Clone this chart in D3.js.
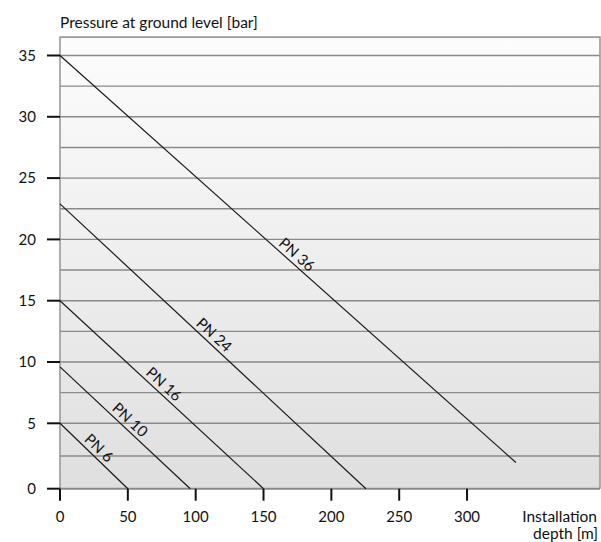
<!DOCTYPE html>
<html><head><meta charset="utf-8">
<script src="https://cdn.jsdelivr.net/npm/d3@7"></script>
<style>body{margin:0;background:#fff}svg{display:block}text{font-family:Lato,"Open Sans",sans-serif;fill:#111}</style>
</head><body><svg id="c" width="601" height="542"></svg>
<script>
const seriesNames = ["PN 6","PN 10","PN 16","PN 24","PN 36"];
const startDepth = [0,0,0,0,0];
const startPressure = [5,9.6,15,22.9,35];
const endDepth = [50,96,150,225.5,336];
const endPressure = [0,0,0,0,2.0];
const labelDepth = [24,47,72,109,170];
const yTicks = [0,5,10,15,20,25,30,35];
const xTicks = [0,50,100,150,200,250,300];
const gridValues = [2.5,5,7.5,10,12.5,15,17.5,20,22.5,25,27.5,30,32.5,35];

const svg = d3.select("#c");
const x = d3.scaleLinear().domain([0,398]).range([60,600]);
const y = d3.scaleLinear().domain([0,5,36.5]).range([488.7,423.3,37.1]);

const defs = svg.append("defs");
const g = defs.append("linearGradient").attr("id","bg").attr("x1",0).attr("y1",0).attr("x2",0).attr("y2",1);
g.append("stop").attr("offset","0%").attr("stop-color","#fdfdfd");
g.append("stop").attr("offset","100%").attr("stop-color","#dfdfdf");

svg.append("rect").attr("x",x(0)).attr("y",y(36.5)).attr("width",x(398)-x(0)).attr("height",y(0)-y(36.5)).attr("fill","url(#bg)");

svg.append("g").selectAll("line").data(gridValues).join("line")
  .attr("x1",x(0)).attr("x2",x(398)).attr("y1",d=>y(d)).attr("y2",d=>y(d))
  .attr("stroke","#8a8a8a").attr("stroke-width",1.4);

// border
svg.append("path").attr("d",`M${x(0)},${y(0)}V${y(36.5)}H${x(398)}V${y(0)}`)
  .attr("fill","none").attr("stroke","#9a9a9a").attr("stroke-width",1.6);
svg.append("line").attr("x1",x(0)).attr("x2",x(398)).attr("y1",y(0)).attr("y2",y(0))
  .attr("stroke","#8a8a8a").attr("stroke-width",2);

// y axis
const yAxis = svg.append("g");
yAxis.selectAll("line").data(yTicks).join("line")
  .attr("x1",x(0)-13).attr("x2",x(0)).attr("y1",d=>y(d)).attr("y2",d=>y(d))
  .attr("stroke","#111").attr("stroke-width",2);
yAxis.selectAll("text").data(yTicks).join("text")
  .attr("x",36).attr("y",d=>y(d)).attr("dy","0.35em").attr("text-anchor","end")
  .attr("font-size",15).text(d=>d);

// x axis
const xAxis = svg.append("g");
xAxis.selectAll("line").data(xTicks).join("line")
  .attr("x1",d=>x(d)).attr("x2",d=>x(d)).attr("y1",y(0)).attr("y2",y(0)+12)
  .attr("stroke","#111").attr("stroke-width",2);
xAxis.selectAll("text").data(xTicks).join("text")
  .attr("x",d=>x(d)).attr("y",522).attr("text-anchor","middle")
  .attr("font-size",15).text(d=>d);

// data lines
const idx = d3.range(seriesNames.length);
svg.append("g").selectAll("line").data(idx).join("line")
  .attr("x1",i=>x(startDepth[i])).attr("y1",i=>y(startPressure[i]))
  .attr("x2",i=>x(endDepth[i])).attr("y2",i=>y(endPressure[i]))
  .attr("stroke","#1a1a1a").attr("stroke-width",1.2);

// labels
svg.append("g").selectAll("text").data(idx).join("text")
  .attr("transform",i=>{
    const x1=x(startDepth[i]),y1=y(startPressure[i]),x2=x(endDepth[i]),y2=y(endPressure[i]);
    const t=(labelDepth[i]-startDepth[i])/(endDepth[i]-startDepth[i]);
    const px=x1+t*(x2-x1), py=y1+t*(y2-y1);
    const ang=Math.atan2(y2-y1,x2-x1)*180/Math.PI;
    return `translate(${px},${py}) rotate(${ang})`;
  })
  .attr("y",-4).attr("text-anchor","middle").attr("font-size",15).text(i=>seriesNames[i]);

svg.append("text").attr("x",60).attr("y",28).attr("font-size",15.5).text("Pressure at ground level [bar]");
svg.append("text").attr("x",597).attr("y",522).attr("text-anchor","end").attr("font-size",15.5).text("Installation");
svg.append("text").attr("x",598).attr("y",539).attr("text-anchor","end").attr("font-size",15.5).text("depth [m]");
</script></body></html>
